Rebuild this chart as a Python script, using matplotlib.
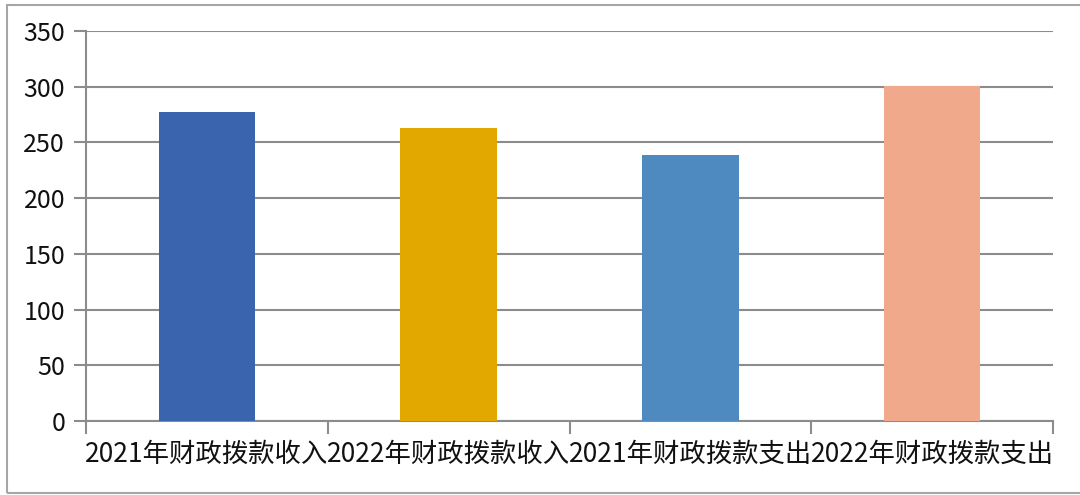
import matplotlib
matplotlib.use("Agg")
import matplotlib.pyplot as plt
from matplotlib.patches import Rectangle

plt.rcParams['font.family'] = ['Noto Sans CJK SC', 'DejaVu Sans']

categories = ["2021年财政拨款收入", "2022年财政拨款收入", "2021年财政拨款支出", "2022年财政拨款支出"]
values = [277, 263, 239, 301]
colors = ["#3a64ae", "#e2a800", "#4e8ac0", "#f0a98b"]
yticks = [0, 50, 100, 150, 200, 250, 300, 350]

fig = plt.figure(figsize=(10.8, 4.95), dpi=100)
ax = fig.add_axes([86/1080, 1-421/495, (1053-86)/1080, (421-31)/495])

x = list(range(len(categories)))
ax.bar(x, values, width=0.4, color=colors, zorder=3)
ax.set_xlim(-0.5, len(categories)-0.5)
ax.set_ylim(0, 350)
ax.set_yticks(yticks)
ax.set_yticklabels([str(v) for v in yticks], fontsize=18, color="#111111")
ax.yaxis.grid(True, color="#8c8c8c", linewidth=1.5, zorder=0)

ax.set_xticks([i - 0.5 for i in range(len(categories)+1)])
ax.set_xticklabels([])
ax.set_xticks(x, minor=True)
ax.set_xticklabels(categories, minor=True, fontsize=19, color="#111111")
ax.tick_params(axis='x', which='minor', length=0, pad=14)
ax.tick_params(axis='x', which='major', length=9, width=1.5, color="#8c8c8c")
ax.tick_params(axis='y', length=9, width=1.5, color="#8c8c8c", pad=6)

for s in ['top', 'right']:
    ax.spines[s].set_visible(False)
for s in ['left', 'bottom']:
    ax.spines[s].set_color("#8c8c8c")
    ax.spines[s].set_linewidth(1.5)

fig.patches.append(Rectangle((7/1080, 1-493/495), 1 - 7/1080 + 0.01, (493-5)/495,
                             transform=fig.transFigure, fill=False,
                             edgecolor="#a6a6a6", linewidth=1.5))

fig.savefig("out.png", dpi=100)
